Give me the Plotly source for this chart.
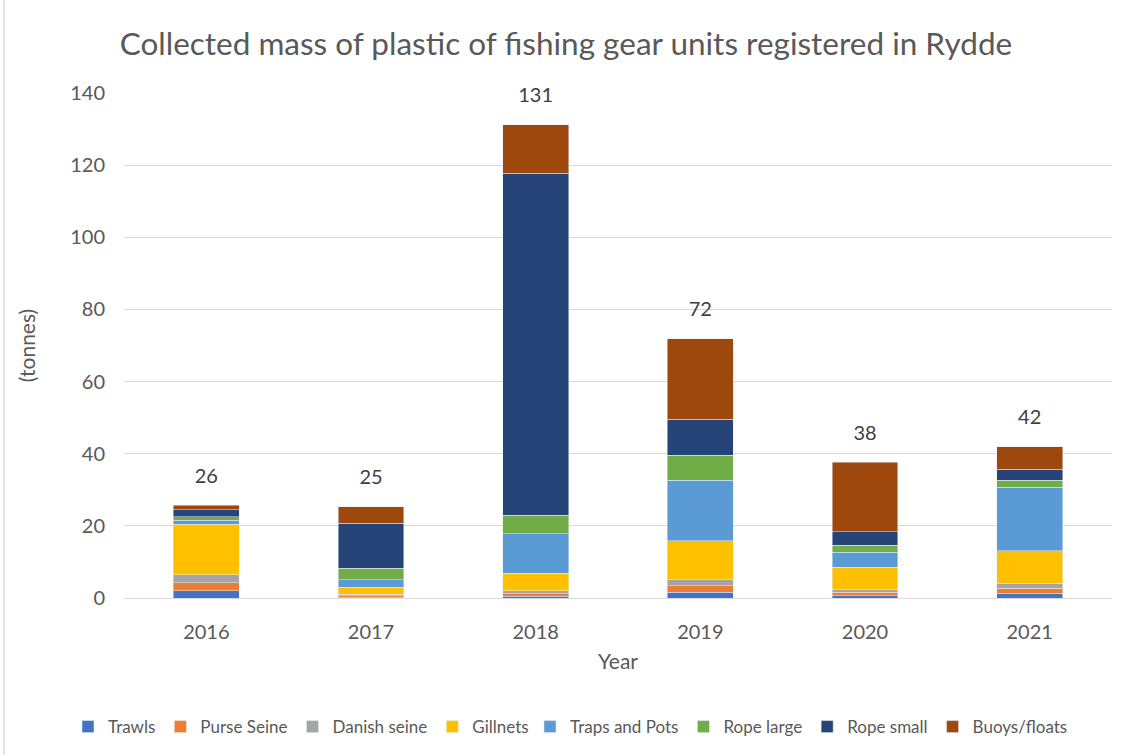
import plotly.graph_objects as go

years = ["2016", "2017", "2018", "2019", "2020", "2021"]
series_names = ["Trawls", "Purse Seine", "Danish seine", "Gillnets",
                "Traps and Pots", "Rope large", "Rope small", "Buoys/floats"]
trawls = [2.0, 0.2, 0.5, 1.6, 0.6, 1.3]
purse_seine = [2.2, 0.4, 0.7, 1.75, 1.0, 1.4]
danish_seine = [2.2, 0.4, 0.8, 1.75, 0.8, 1.4]
gillnets = [14.0, 2.0, 4.8, 10.8, 6.1, 9.0]
traps_pots = [1.1, 2.1, 11.0, 16.7, 4.2, 17.6]
rope_large = [1.0, 3.2, 5.2, 7.0, 1.9, 2.0]
rope_small = [1.9, 12.4, 94.7, 10.0, 3.7, 3.0]
buoys_floats = [1.3, 4.6, 13.5, 22.3, 19.3, 6.2]
total_labels = ["26", "25", "131", "72", "38", "42"]

colors = ["#4472C4", "#ED7D31", "#A5A5A5", "#FFC000",
          "#5B9BD5", "#70AD47", "#264478", "#9E480E"]
values = [trawls, purse_seine, danish_seine, gillnets,
          traps_pots, rope_large, rope_small, buoys_floats]

FONT = "Lato"
TXT = "#595959"
LABEL_OFFSET = 7.7  # tonnes between bar top and centre of its total label

fig = go.Figure()
for i, (name, vals, col) in enumerate(zip(series_names, values, colors)):
    fig.add_trace(go.Bar(x=years, y=vals, name=name, marker_color=col,
                         legend="legend" if i < 4 else "legend2"))

totals = [sum(v[i] for v in values) for i in range(len(years))]
fig.add_trace(go.Scatter(x=years, y=[t + LABEL_OFFSET for t in totals],
                         text=total_labels, mode="text", textposition="middle center",
                         showlegend=False, hoverinfo="skip", cliponaxis=False,
                         textfont=dict(family=FONT, size=20, color="#404040")))

legend_common = dict(orientation="h", xanchor="left", y=-0.253, yanchor="middle",
                     font=dict(family=FONT, size=17, color=TXT), traceorder="normal",
                     bgcolor="rgba(0,0,0,0)")

fig.update_layout(
    barmode="stack",
    bargap=0.6,
    width=1132, height=756,
    margin=dict(l=124, r=20, t=93, b=157),
    paper_bgcolor="white", plot_bgcolor="white",
    font=dict(family=FONT, color=TXT, size=19),
    title=dict(text="Collected mass of plastic of fishing gear units registered in Rydde",
               x=0.5, xanchor="center", y=0.942, yanchor="middle",
               font=dict(family=FONT, size=31.5, color=TXT)),
    legend=dict(x=(68 - 124) / 988, **legend_common),
    legend2=dict(x=(530 - 124) / 988, **legend_common),
    xaxis=dict(type="category", range=[-0.5, 5.5],
               title=dict(text="Year", font=dict(family=FONT, size=21, color=TXT), standoff=12),
               showgrid=False, showline=False, ticks="outside", ticklen=16,
               tickcolor="white", tickfont=dict(family=FONT, size=20, color=TXT)),
    yaxis=dict(title=dict(text="(tonnes)", font=dict(family=FONT, size=21, color=TXT), standoff=28),
               range=[0, 140], dtick=20, showgrid=True, gridcolor="#D9D9D9", gridwidth=1.3,
               zeroline=True, zerolinecolor="#D9D9D9", zerolinewidth=1.3,
               ticks="outside", ticklen=14, tickcolor="white",
               tickfont=dict(family=FONT, size=20, color=TXT)),
)

# light chart frame (left edge visible in the reference)
fig.add_shape(type="line", xref="paper", yref="paper",
              x0=(4 - 124) / 988, x1=(4 - 124) / 988,
              y0=(599 - 756) / 506, y1=599 / 506,
              line=dict(color="#D9D9D9", width=1.5))

fig.write_html("out.html")
